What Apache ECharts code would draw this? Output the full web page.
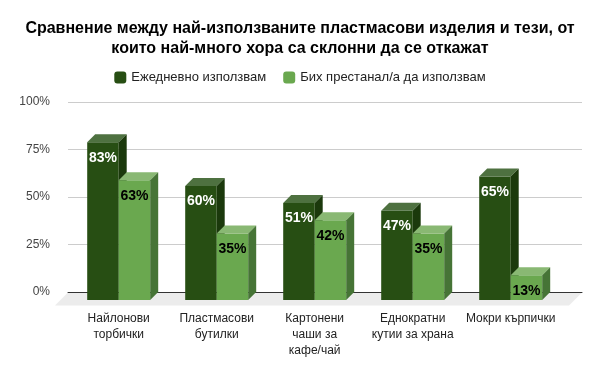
<!DOCTYPE html>
<html><head><meta charset="utf-8">
<script src="https://cdn.jsdelivr.net/npm/echarts@6/dist/echarts.min.js"></script>
<style>html,body{margin:0;padding:0;background:#fff}#c{width:600px;height:371px}</style>
</head><body><div id="c"></div>
<script>
const titleText = 'Сравнение между най-използваните пластмасови изделия и тези, от\nкоито най-много хора са склонни да се откажат';
const categories = ['Найлонови\nторбички', 'Пластмасови\nбутилки', 'Картонени\nчаши за\nкафе/чай', 'Еднократни\nкутии за храна', 'Мокри кърпички'];
const seriesNames = ['Ежедневно използвам', 'Бих престанал/а да използвам'];
const dailyUse = [83, 60, 51, 47, 65];
const wouldStop = [63, 35, 42, 35, 13];
const yMin = 0, yMax = 100, yStep = 25;

const FONT = 'Arial, "Liberation Sans", sans-serif';
const D = 8;      // 3D depth
const BW = 31.5;  // bar front width
const FLOOR = 13;
const faces = [
  {front: '#274e13', top: '#4e7140', side: '#1b390c', label: '#ffffff'},
  {front: '#6aa84f', top: '#89b873', side: '#467436', label: '#000000'}
];

function barRender(si) {
  return function (params, api) {
    const cat = api.value(0), v = api.value(1);
    const c = api.coord([cat, v]);
    const b = api.coord([cat, 0]);
    const xl = c[0] - (si === 0 ? BW : 0);
    const xr = xl + BW;
    const yt = c[1] + D, yb = b[1] + D;
    const f = faces[si];
    return {type: 'group', children: [
      {type: 'rect', shape: {x: xl, y: yt, width: BW, height: yb - yt}, style: {fill: f.front}},
      {type: 'polygon', shape: {points: [[xl, yt], [xl + D, yt - D], [xr + D, yt - D], [xr, yt]]}, style: {fill: f.top}},
      {type: 'polygon', shape: {points: [[xr, yt], [xr + D, yt - D], [xr + D, yb - D], [xr, yb]]}, style: {fill: f.side}},
      {type: 'text', style: {text: v + '%', x: (xl + xr) / 2, y: yt + 15.5, align: 'center', verticalAlign: 'middle', fill: f.label, font: 'bold 14px ' + FONT}}
    ]};
  };
}

function floorRender(params, api) {
  const cs = params.coordSys;
  const y0 = cs.y + cs.height + 0.5;
  return {type: 'polygon', shape: {points: [[cs.x, y0], [cs.x + cs.width, y0], [cs.x + cs.width - FLOOR, y0 + FLOOR], [cs.x - FLOOR, y0 + FLOOR]]}, style: {fill: '#ececec'}};
}

const chart = echarts.init(document.getElementById('c'), null, {renderer: 'canvas'});
chart.setOption({
  animation: false,
  backgroundColor: '#ffffff',
  title: {
    text: titleText, left: 'center', top: 14,
    textStyle: {fontFamily: FONT, fontSize: 16, fontWeight: 'bold', color: '#000', lineHeight: 20}
  },
  legend: {
    top: 66, left: 'center', itemWidth: 12, itemHeight: 12, itemGap: 17,
    icon: 'roundRect',
    data: seriesNames,
    textStyle: {fontFamily: FONT, fontSize: 13, color: '#222'}
  },
  grid: [
    {left: 68, right: 18, top: 102, bottom: 79},
    {left: 69.7, right: 40.3, top: 102, bottom: 79}
  ],
  xAxis: [
    {gridIndex: 0, type: 'value', min: 0, max: 1, axisLabel: {show: false}, axisTick: {show: false}, splitLine: {show: false},
      axisLine: {show: true, lineStyle: {color: '#333', width: 1}}},
    {gridIndex: 1, type: 'category', data: categories, axisLine: {show: false}, axisTick: {show: false},
      axisLabel: {fontFamily: FONT, fontSize: 12, color: '#222', lineHeight: 16, margin: 19, interval: 0}}
  ],
  yAxis: [
    {gridIndex: 0, type: 'value', min: yMin, max: yMax, interval: yStep,
      axisLabel: {formatter: '{value}%', fontFamily: FONT, fontSize: 12, color: '#444', margin: 18},
      axisLine: {show: false}, axisTick: {show: false},
      splitLine: {lineStyle: {color: '#cccccc', width: 1}}},
    {gridIndex: 1, type: 'value', min: yMin, max: yMax, interval: yStep, show: false, splitLine: {show: false}}
  ],
  series: [
    {type: 'custom', name: 'floor', xAxisIndex: 0, yAxisIndex: 0, z: 0, silent: true,
      renderItem: floorRender, data: [[0, 0]]},
    {type: 'custom', name: seriesNames[0], xAxisIndex: 1, yAxisIndex: 1, z: 3,
      itemStyle: {color: faces[0].front}, renderItem: barRender(0),
      data: dailyUse.map((v, i) => [i, v])},
    {type: 'custom', name: seriesNames[1], xAxisIndex: 1, yAxisIndex: 1, z: 4,
      itemStyle: {color: faces[1].front}, renderItem: barRender(1),
      data: wouldStop.map((v, i) => [i, v])}
  ]
});
</script>
</body></html>
